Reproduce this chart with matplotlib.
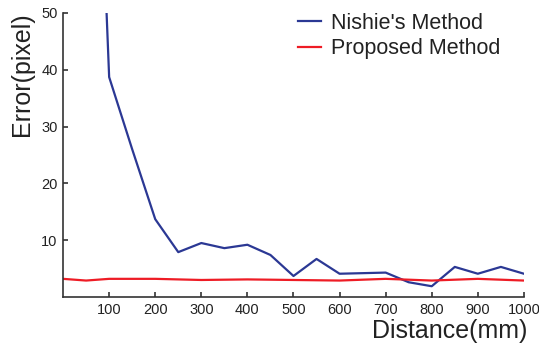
import numpy as np
import matplotlib.pyplot as plt

plt.rcParams['font.family'] = ['Liberation Sans', 'DejaVu Sans']

# error vs. distance for both methods
dist_nishie = [50, 100, 150, 200, 250, 300, 350, 400, 450, 500,
               550, 600, 650, 700, 750, 800, 850, 900, 950, 1000]
err_nishie = [140, 38.7, 26.0, 13.7, 7.9, 9.5, 8.6, 9.2, 7.4, 3.7,
              6.7, 4.1, 4.2, 4.3, 2.6, 1.9, 5.3, 4.1, 5.3, 4.1]

dist_prop = [0, 50, 100, 200, 300, 400, 500, 600, 700, 800, 900, 1000]
err_prop = [3.2, 2.9, 3.2, 3.2, 3.0, 3.1, 3.0, 2.9, 3.2, 2.9, 3.2, 2.9]

xticks = [100, 200, 300, 400, 500, 600, 700, 800, 900, 1000]
yticks = [10, 20, 30, 40, 50]

fig = plt.figure(figsize=(5.39, 3.47), dpi=100)
ax = fig.add_axes([0.117, 0.144, 0.855, 0.819])

ax.plot(dist_nishie, err_nishie, color='#2b3894', lw=1.6, label="Nishie's Method")
ax.plot(dist_prop, err_prop, color='#ee1c25', lw=1.6, label='Proposed Method')

ax.set_xlim(0, 1000)
ax.set_ylim(0, 50)
ax.set_xticks(xticks)
ax.set_yticks(yticks)
ax.tick_params(direction='in', length=3.5, width=1.1, labelsize=10.5,
               colors='#222222', pad=4)
for side in ['top', 'right']:
    ax.spines[side].set_visible(False)
for side in ['left', 'bottom']:
    ax.spines[side].set_linewidth(1.2)
    ax.spines[side].set_color('#333333')

fig.text(0.978, 0.026, 'Distance(mm)', fontsize=18, ha='right', va='baseline',
         color='#222222')
fig.text(0.040, 0.785, 'Error(pixel)', fontsize=18, rotation=90,
         ha='center', va='center', color='#222222')

leg = ax.legend(loc='upper left', bbox_to_anchor=(0.468, 1.068), frameon=False,
                fontsize=15.5, handlelength=1.07, handletextpad=0.47,
                labelspacing=0.2)
for t in leg.get_texts():
    t.set_color('#222222')

fig.savefig('out.png', dpi=100)
